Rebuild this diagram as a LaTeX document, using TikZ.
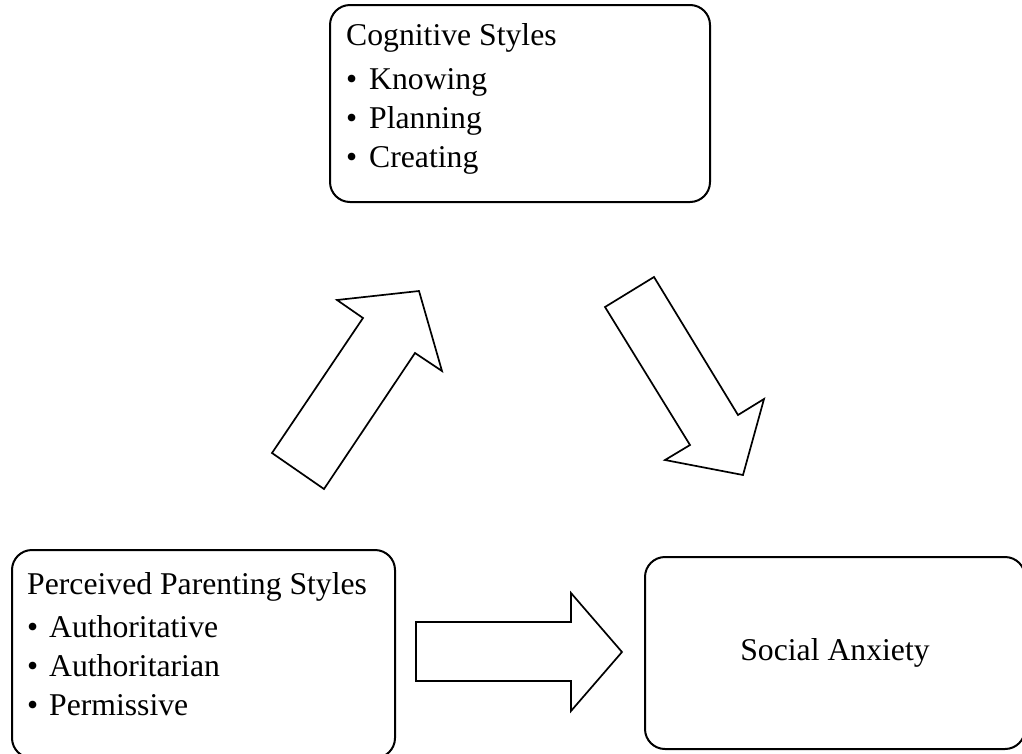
\documentclass[tikz,border=0pt]{standalone}
\usepackage{fontspec}
\setmainfont{Liberation Serif}
\usetikzlibrary{calc}
\begin{document}
\begin{tikzpicture}[x=1pt,y=-1pt,
  boxshape/.style={draw=black,line width=2pt,rounded corners=20pt,inner sep=0pt},
  boxtext/.style={inner sep=0pt,anchor=base west,font=\fontsize{31.7}{39}\selectfont},
  blockarrow/.style={draw=black,line width=1.7pt,line join=miter,fill=white}]
\useasboundingbox (0,0) rectangle (1022,753);
% boxes
\node[boxshape,minimum width=380pt,minimum height=197pt] (cog) at (520,103.5) {};
\node[boxshape,minimum width=383pt,minimum height=208pt] (par) at (203.5,654) {};
\node[boxshape,minimum width=380pt,minimum height=192pt,font=\fontsize{31.7}{39}\selectfont] (soc) at (835,653) {\raisebox{-2pt}{Social Anxiety}};
% box texts
\node[boxtext] (cogtext) at ($(cog.north west)+(17,41)$) {\begin{tabular}[t]{@{}l@{}}
Cognitive Styles\\[5pt]
\makebox[23pt][l]{•}Knowing\\
\makebox[23pt][l]{•}Planning\\
\makebox[23pt][l]{•}Creating
\end{tabular}};
\node[boxtext] (partext) at ($(par.north west)+(16,45)$) {\begin{tabular}[t]{@{}l@{}}
Perceived Parenting Styles\\[4pt]
\makebox[22pt][l]{•}Authoritative\\
\makebox[22pt][l]{•}Authoritarian\\
\makebox[22pt][l]{•}Permissive
\end{tabular}};
% block arrows
\draw[blockarrow] (272,453) -- (363,318) -- (337,300) -- (419,291) -- (442,371) -- (415,353) -- (324,489) -- cycle;
\draw[blockarrow] (605,307) -- (654,277) -- (738,415) -- (764,399) -- (743,475) -- (665,460) -- (690,445) -- cycle;
\draw[blockarrow] (416,622) -- (571,622) -- (571,593) -- (622,652) -- (571,711) -- (571,681) -- (416,681) -- cycle;
\end{tikzpicture}
\end{document}
